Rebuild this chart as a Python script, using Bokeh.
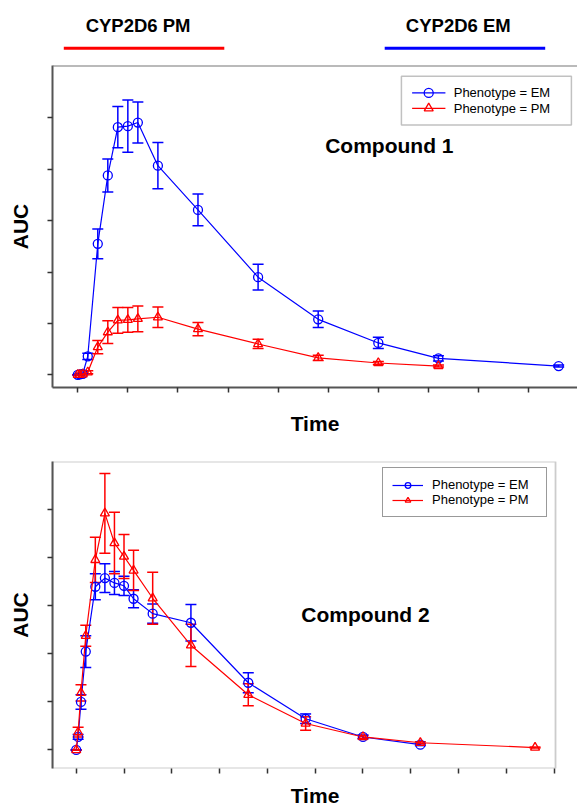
from bokeh.plotting import figure
from bokeh.models import (ColumnDataSource, Whisker, TeeHead, Legend, LegendItem,
                          FixedTicker, Label, Span, BoxAnnotation)
from bokeh.layouts import column
from bokeh.embed import file_html
from bokeh.resources import INLINE
from bokeh.core.properties import value

FONT = "Liberation Sans"
BLUE = "#0000FF"
RED = "#FF0000"
AXIS = "#555555"

# ---------------- data ----------------
# Compound 1
c1_em_time = [0, 0.1, 0.25, 0.5, 1, 1.5, 2, 2.5, 3, 4, 6, 9, 12, 15, 18, 24]
c1_em_auc = [0, 0.01, 0.02, 0.36, 2.55, 3.88, 4.82, 4.84, 4.91, 4.07, 3.21, 1.90, 1.08, 0.62, 0.32, 0.17]
c1_em_err = [0, 0.01, 0.01, 0.06, 0.29, 0.32, 0.40, 0.51, 0.40, 0.45, 0.31, 0.25, 0.16, 0.11, 0.05, 0.02]

c1_pm_time = [0, 0.1, 0.25, 0.5, 1, 1.5, 2, 2.5, 3, 4, 6, 9, 12, 15, 18]
c1_pm_auc = [0, 0.0, 0.01, 0.05, 0.54, 0.83, 1.06, 1.07, 1.09, 1.12, 0.89, 0.60, 0.33, 0.23, 0.17]
c1_pm_err = [0, 0.0, 0.01, 0.03, 0.13, 0.22, 0.25, 0.24, 0.25, 0.20, 0.13, 0.09, 0.05, 0.03, 0.02]

# Compound 2
c2_em_time = [0, 0.1, 0.25, 0.5, 1, 1.5, 2, 2.5, 3, 4, 6, 9, 12, 15, 18]
c2_em_auc = [0, 0.27, 1.00, 2.05, 3.40, 3.58, 3.48, 3.42, 3.15, 2.84, 2.65, 1.40, 0.65, 0.27, 0.11]
c2_em_err = [0, 0.05, 0.15, 0.33, 0.27, 0.30, 0.24, 0.20, 0.19, 0.20, 0.38, 0.21, 0.10, 0.04, 0.02]

c2_pm_time = [0, 0.1, 0.25, 0.5, 1, 1.5, 2, 2.5, 3, 4, 6, 9, 12, 15, 18, 24]
c2_pm_auc = [0, 0.37, 1.19, 2.38, 3.96, 4.93, 4.31, 4.03, 3.74, 3.16, 2.18, 1.15, 0.55, 0.27, 0.15, 0.05]
c2_pm_err = [0, 0.10, 0.17, 0.22, 0.47, 0.83, 0.64, 0.46, 0.42, 0.54, 0.44, 0.23, 0.14, 0.03, 0.02, 0.01]

x_ticks = [0, 2.5, 5, 7.5, 10, 12.5, 15, 17.5, 20, 22.5, 25]
y_ticks = [0, 1, 2, 3, 4, 5]

header_labels = ["CYP2D6 PM", "CYP2D6 EM"]
header_colors = [RED, BLUE]
legend_labels = ["Phenotype = EM", "Phenotype = PM"]

W = 577
LEFT = 52


def style_axes(p, xlabel_standoff, ylabel_standoff):
    for ax in (p.xaxis[0], p.yaxis[0]):
        ax.axis_line_color = AXIS
        ax.axis_line_width = 2
        ax.major_tick_line_color = "#333333"
        ax.major_tick_line_width = 1.5
        ax.major_tick_out = 5
        ax.major_tick_in = 0
        ax.minor_tick_line_color = None
        ax.major_label_text_font_size = "0px"
        ax.major_label_text_color = None
        ax.major_label_standoff = 0
        ax.axis_label_text_font = FONT
        ax.axis_label_text_font_style = "bold"
        ax.axis_label_text_font_size = "21px"
        ax.axis_label_text_color = "black"
    p.xaxis[0].ticker = FixedTicker(ticks=x_ticks)
    p.yaxis[0].ticker = FixedTicker(ticks=y_ticks)
    p.xaxis[0].axis_label = "Time"
    p.yaxis[0].axis_label = "AUC"
    p.xaxis[0].axis_label_standoff = xlabel_standoff
    p.yaxis[0].axis_label_standoff = ylabel_standoff
    p.grid.visible = False
    p.background_fill_color = "white"
    p.border_fill_color = "white"


def add_series(p, t, auc, err, color, marker):
    lower = [a - e for a, e in zip(auc, err)]
    upper = [a + e for a, e in zip(auc, err)]
    src = ColumnDataSource(dict(t=t, auc=auc, lower=lower, upper=upper))
    w = Whisker(source=src, base="t", lower="lower", upper="upper",
                line_color=color, line_width=1.5,
                upper_head=TeeHead(size=11, line_color=color, line_width=1.5),
                lower_head=TeeHead(size=11, line_color=color, line_width=1.5))
    p.add_layout(w)
    ln = p.line("t", "auc", source=src, line_color=color, line_width=1.2)
    sc = p.scatter("t", "auc", source=src, marker=marker, size=9,
                   line_color=color, line_width=1.3, fill_color=None)
    return ln, sc


# ---------------- header ----------------
hdr = figure(width=W, height=60, x_range=(LEFT, W), y_range=(0, 60),
             output_backend="svg", toolbar_location=None,
             min_border_left=LEFT, min_border_right=0, min_border_top=0,
             min_border_bottom=0, outline_line_color=None)
hdr.axis.visible = False
hdr.grid.visible = False
hdr_src = ColumnDataSource(dict(tx=[137.6, 457.8], ty=[35, 35],
                                x0=[63.3, 384.2], x1=[223.8, 544.7],
                                ly=[12.2, 12.2],
                                label=header_labels, color=header_colors))
hdr.text("tx", "ty", text="label", source=hdr_src, text_font=value(FONT),
         text_font_style="bold", text_font_size="18.5px", text_color="black",
         text_align="center", text_baseline="middle")
hdr.segment("x0", "ly", "x1", "ly", source=hdr_src, line_color="color", line_width=3)

# ---------------- Compound 1 ----------------
p1 = figure(width=W, height=380, x_range=(-1.26, 24.94), y_range=(-0.247, 6.02),
            output_backend="svg", toolbar_location=None,
            min_border_left=LEFT, min_border_right=0, min_border_top=5,
            min_border_bottom=53, outline_line_color=None)
style_axes(p1, 19, 16)
p1.add_layout(Span(location=6.02, dimension="width", line_color="#777777", line_width=2))
p1.xaxis[0].ticker = FixedTicker(ticks=x_ticks[:-1])
em1 = add_series(p1, c1_em_time, c1_em_auc, c1_em_err, BLUE, "circle")
pm1 = add_series(p1, c1_pm_time, c1_pm_auc, c1_pm_err, RED, "triangle")


def px_to_x1(px):
    return (px - 77.3) / 50.1 * 2.5


def py_to_y1(py):
    return (374.3 - py) / 51.4


# legend of the top panel, built from a box, sample glyphs and labels
p1.add_layout(BoxAnnotation(left=px_to_x1(401), right=px_to_x1(571),
                            top=py_to_y1(75.7), bottom=py_to_y1(124.3),
                            fill_color="white", fill_alpha=1,
                            line_color="#333333", line_width=1.5, level="underlay"))
leg_rows = [92.3, 107.7]
leg_src = ColumnDataSource(dict(
    x0=[px_to_x1(411.7)] * 2, x1=[px_to_x1(445)] * 2,
    xm=[px_to_x1(428.3)] * 2, y=[py_to_y1(r) for r in leg_rows],
    color=[BLUE, RED], marker=["circle", "triangle"]))
p1.segment("x0", "y", "x1", "y", source=leg_src, line_color="color", line_width=1.2)
p1.scatter("xm", "y", source=leg_src, marker="marker", size=9,
           line_color="color", line_width=1.3, fill_color=None)
for lab, r in zip(legend_labels, leg_rows):
    p1.add_layout(Label(x=px_to_x1(453.3), y=py_to_y1(r), text=lab, text_font=FONT,
                        text_font_size="13px", text_align="left",
                        text_baseline="middle", text_color="black"))
p1.add_layout(Label(x=15.55, y=4.46, text="Compound 1", text_font=FONT,
                    text_font_style="bold", text_font_size="21px",
                    text_align="center", text_baseline="middle", text_color="black"))

# ---------------- Compound 2 ----------------
p2 = figure(width=W, height=369, x_range=(-1.24, 26.22), y_range=(-0.387, 6.01),
            output_backend="svg", toolbar_location=None,
            min_border_left=LEFT, min_border_right=0, min_border_top=21,
            min_border_bottom=41, outline_line_color=None)
style_axes(p2, 10, 16)
p2.xaxis[0].axis_line_color = None
p2.add_layout(BoxAnnotation(left=-1.24, right=25.07, bottom=-0.387, top=6.01,
                            fill_color=None, line_color=AXIS, line_width=1.8,
                            level="underlay"))
em2 = add_series(p2, c2_em_time, c2_em_auc, c2_em_err, BLUE, "circle")
pm2 = add_series(p2, c2_pm_time, c2_pm_auc, c2_pm_err, RED, "triangle")
p2.add_layout(Legend(items=[LegendItem(label=legend_labels[0], renderers=list(em2)),
                            LegendItem(label=legend_labels[1], renderers=list(pm2))],
                     location=(330, 251), orientation="vertical",
                     label_text_font=FONT, label_text_font_size="13px",
                     label_text_color="black",
                     glyph_width=31, glyph_height=14, label_height=14,
                     label_standoff=9, label_width=105,
                     padding=9, spacing=0, margin=0,
                     border_line_color="#333333", border_line_width=1.5,
                     background_fill_color="white", background_fill_alpha=1))
p2.add_layout(Label(x=15.13, y=2.82, text="Compound 2", text_font=FONT,
                    text_font_style="bold", text_font_size="21px",
                    text_align="center", text_baseline="middle", text_color="black"))

layout = column(hdr, p1, p2, spacing=0)
open("out.html", "w").write(file_html(layout, INLINE))
